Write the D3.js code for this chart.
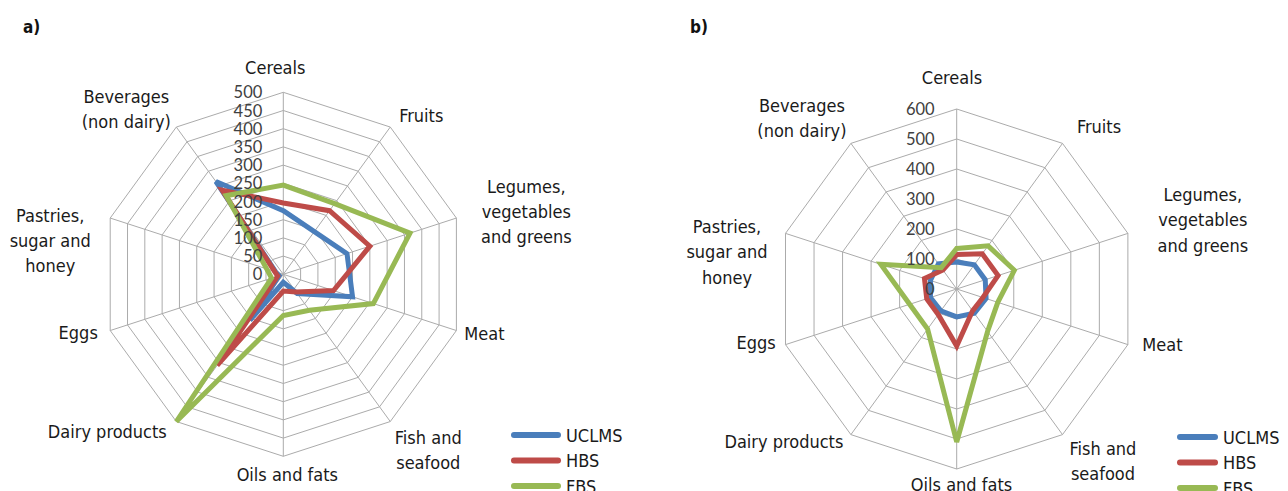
<!DOCTYPE html>
<html><head><meta charset="utf-8">
<script src="https://cdn.jsdelivr.net/npm/d3@7"></script>
<style>
body{margin:0;background:#fff;}
svg{display:block;}
.cat{font-family:"Liberation Sans Narrow","DejaVu Sans Condensed",sans-serif;font-size:18px;fill:#1a1a1a;}
.tick{font-family:Lato,"Liberation Sans",sans-serif;font-size:16.5px;fill:#404040;}
.ttl{font-family:"Liberation Sans Narrow","DejaVu Sans Condensed",sans-serif;font-size:17px;font-weight:bold;fill:#111;}
</style></head><body>
<svg id="chart" width="1288" height="491"></svg>
<script>
// ---- data ----
const categories = ["Cereals", "Fruits", "Legumes,\nvegetables\nand greens", "Meat", "Fish and\nseafood",
  "Oils and fats", "Dairy products", "Eggs", "Pastries,\nsugar and\nhoney", "Beverages\n(non dairy)"];
const seriesNames = ["UCLMS", "HBS", "FBS"];
const aUCLMS = [175, 145, 184, 200, 65, 22, 156, 12, 22, 315];
const aHBS   = [196, 216, 250, 145, 60, 46, 309, 16, 25, 286];
const aFBS   = [245, 240, 366, 260, 122, 113, 500, 34, 48, 267];
const bUCLMS = [90, 100, 100, 103, 100, 93, 90, 92, 92, 104];
const bHBS   = [115, 145, 145, 92, 90, 190, 105, 105, 113, 78];
const bFBS   = [135, 178, 202, 144, 175, 510, 165, 165, 266, 88];
const aTicks = [0, 50, 100, 150, 200, 250, 300, 350, 400, 450, 500];
const bTicks = [0, 100, 200, 300, 400, 500, 600];

// ---- style / layout ----
const colors = ["#4a7ebb", "#be4b48", "#98b954"];
const svg = d3.select("#chart");

function drawRadar(o) {
  const g = svg.append("g").attr("transform", `translate(${o.cx},${o.cy})`);
  const n = categories.length;
  const ang = d3.scaleLinear().domain([0, n]).range([0, 2 * Math.PI]);
  const r = d3.scaleLinear().domain([0, o.max]).range([0, o.R]);
  const pt = (i, v) => [Math.sin(ang(i)) * r(v), -Math.cos(ang(i)) * r(v)];

  // rings
  const ring = d3.lineRadial().angle((d, i) => ang(i)).radius(d => r(d)).curve(d3.curveLinearClosed);
  o.ticks.slice(1).forEach(t => {
    g.append("path").attr("d", ring(d3.range(n).map(() => t)))
      .attr("fill", "none").attr("stroke", "#ababab").attr("stroke-width", 1);
  });
  // spokes
  d3.range(n).forEach(i => {
    const p = pt(i, o.max);
    g.append("line").attr("x1", 0).attr("y1", 0).attr("x2", p[0]).attr("y2", p[1])
      .attr("stroke", "#ababab").attr("stroke-width", 1);
  });
  // series
  const line = d3.lineRadial().angle((d, i) => ang(i)).radius(d => r(d)).curve(d3.curveLinearClosed);
  o.series.forEach((s, k) => {
    g.append("path").attr("d", line(s)).attr("fill", "none")
      .attr("stroke", colors[k]).attr("stroke-width", 5).attr("stroke-linejoin", "miter").attr("stroke-miterlimit", 3);
  });
  // tick labels
  o.ticks.forEach(t => {
    g.append("text").attr("class", "tick").attr("x", -o.tickOff).attr("y", -r(t))
      .attr("text-anchor", "end").attr("dominant-baseline", "central").text(t);
  });
  // category labels
  categories.forEach((c, i) => {
    const p = pt(i, o.max);
    const lines = c.split("\n");
    const bx = p[0] + o.nudge[i][0], by = p[1] + o.nudge[i][1];
    const t = g.append("text").attr("class", "cat").attr("text-anchor", "middle");
    lines.forEach((l, j) => {
      t.append("tspan").attr("x", bx).attr("y", by + (j - (lines.length - 1) / 2) * o.lineH)
        .attr("dominant-baseline", "central").text(l);
    });
  });
  // panel title
  svg.append("text").attr("class", "ttl").attr("x", o.title[1]).attr("y", o.title[2])
    .attr("dominant-baseline", "central").text(o.title[0]);
  // legend
  seriesNames.forEach((s, k) => {
    const y = o.leg.y + k * o.leg.dy;
    svg.append("line").attr("x1", o.leg.x1).attr("x2", o.leg.x2).attr("y1", y).attr("y2", y)
      .attr("stroke", colors[k]).attr("stroke-width", 6).attr("stroke-linecap", "round");
    svg.append("text").attr("class", "cat").attr("x", o.leg.tx).attr("y", y)
      .attr("dominant-baseline", "central").text(s);
  });
}

drawRadar({
  cx: 283.3, cy: 274.3, R: 182, max: 500, ticks: aTicks, tickOff: 21, lineH: 25,
  series: [aUCLMS, aHBS, aFBS],
  nudge: [[-8,-25],[31,-12],[70,-7],[28,2.5],[38,28.5],[4,18],[-69,9.5],[-32,1.5],[-60,22],[-50,-18]],
  title: ["a)", 23, 27],
  leg: {x1: 514, x2: 558, tx: 566, y: 435, dy: 25.5}
});
drawRadar({
  cx: 956.7, cy: 289, R: 180, max: 600, ticks: bTicks, tickOff: 22, lineH: 25.5,
  series: [bUCLMS, bHBS, bFBS],
  nudge: [[-4.7,-32],[36.5,-16.4],[75,-13.4],[34.6,-0.6],[40.5,26.4],[4.8,15],[-67,6.4],[-29.5,-2.6],[-58.5,18.6],[-49,-25.4]],
  title: ["b)", 690, 27],
  leg: {x1: 1180, x2: 1215, tx: 1223, y: 437, dy: 25.5}
});
</script>
</body></html>
